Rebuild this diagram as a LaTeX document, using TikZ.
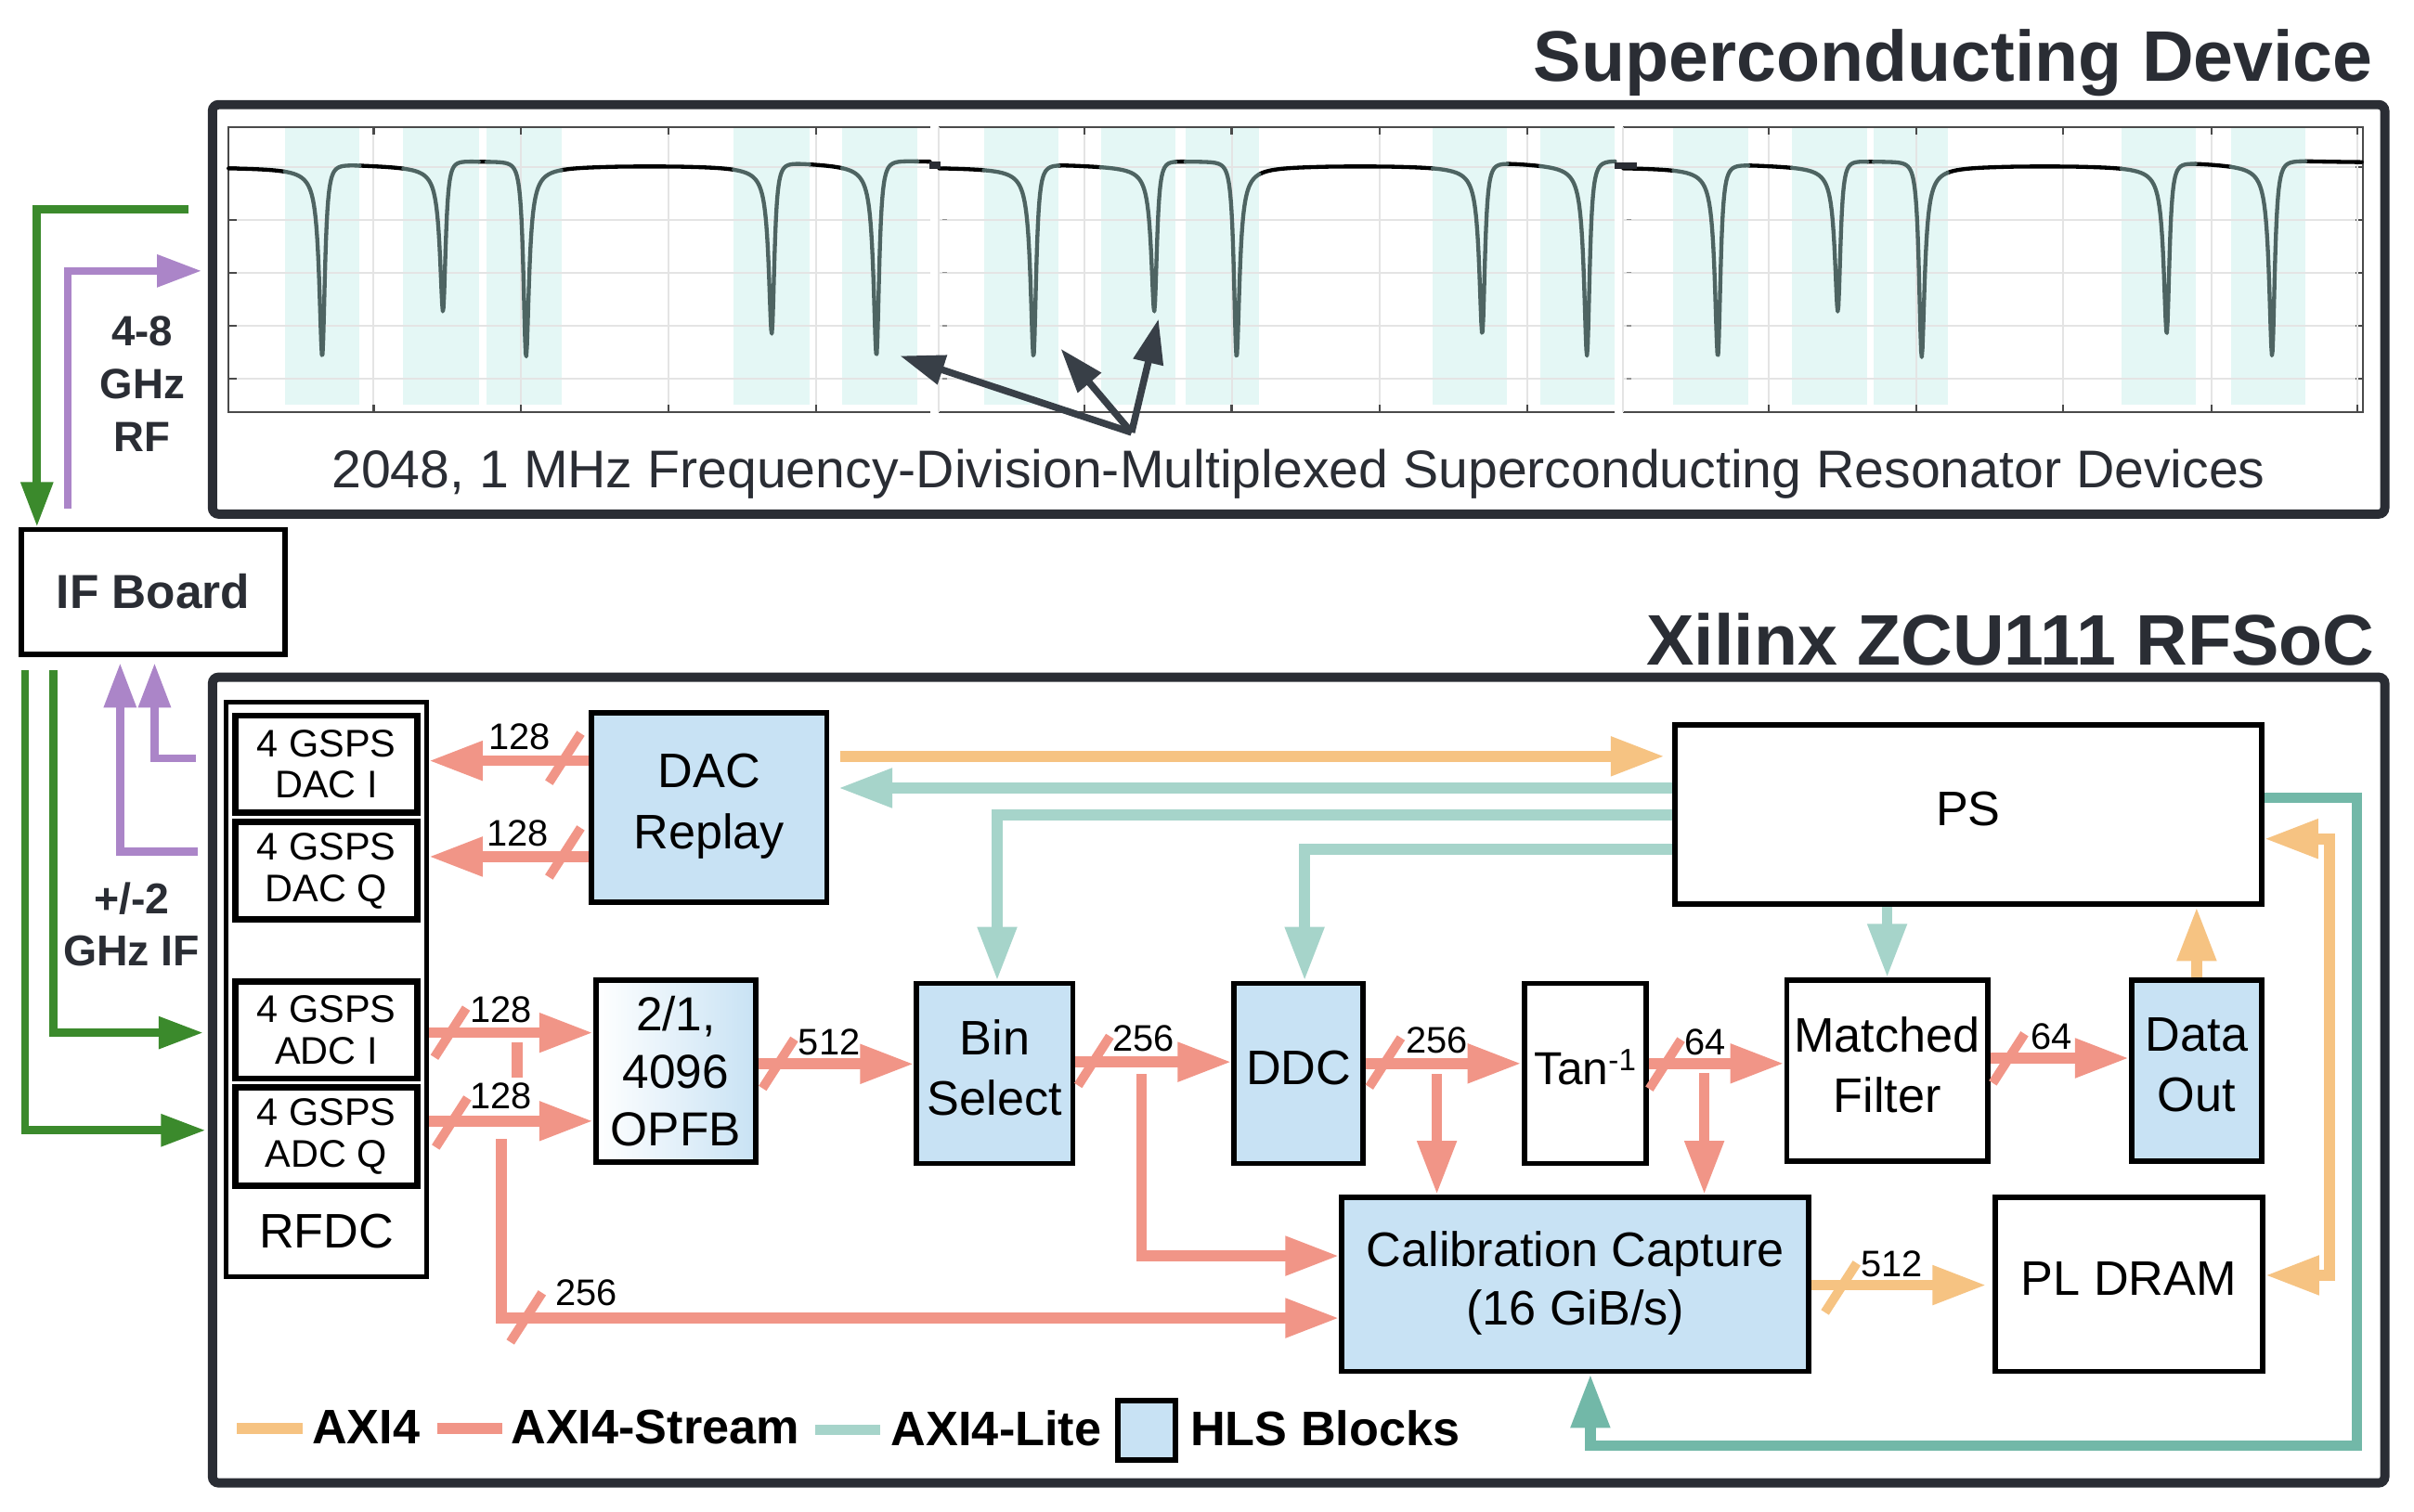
\documentclass[tikz,border=0pt]{standalone}
\usepackage{fontspec}
\setmainfont{Liberation Sans}
\usetikzlibrary{arrows.meta,calc}
\definecolor{cSalm}{HTML}{F19587}
\definecolor{cOrg}{HTML}{F6C382}
\definecolor{cTeal}{HTML}{A6D4CA}
\definecolor{cTealD}{HTML}{72B8A8}
\definecolor{cPurp}{HTML}{AB85C8}
\definecolor{cGrn}{HTML}{3B8A2C}
\definecolor{cBlue}{HTML}{C8E2F4}
\definecolor{cDark}{HTML}{2A2D34}
\definecolor{cArr}{HTML}{383F47}
\definecolor{cBand}{HTML}{E4F7F5}
\definecolor{cCurve}{HTML}{4E6462}
\definecolor{cGrid}{HTML}{E4E4E4}
\definecolor{cAxis}{HTML}{4A4A4A}
\newcommand\fsz[2]{\fontsize{#1}{#2}\selectfont}
\newcommand\dstr{\rule[-8pt]{0pt}{8pt}}
\newcommand\pone{107+fano(\x,209.5,122,25)+fano(\x,288,94,25)+fano(\x,341.5,124,-25)+fano(\x,501.5,108,25)+fano(\x,569.5,124,25)}
\newcommand\ptwo{107+fano(\x,671.5,122,25)+fano(\x,750,94,25)+fano(\x,803,124,-25)+fano(\x,963,108,25)+fano(\x,1031,124,25)}
\newcommand\pthree{107+fano(\x,1116,122,25)+fano(\x,1194,94,25)+fano(\x,1248,124,-25)+fano(\x,1407.6,108,25)+fano(\x,1476,124,25)}
\tikzset{
  bigtip/.tip={Triangle[length=35pt,width=24pt]},
  smalltip/.tip={Triangle[length=29pt,width=20pt]},
  plottip/.tip={Triangle[length=29pt,width=19pt]},
  bus/.style={line width=7pt},
  salm/.style={bus, draw=cSalm},
  org/.style={bus, draw=cOrg},
  tl/.style={bus, draw=cTeal},
  tld/.style={bus, draw=cTealD},
  sig/.style={line width=5.2pt},
  purp/.style={sig, draw=cPurp},
  grn/.style={sig, draw=cGrn},
  bigframe/.style={draw=cDark, line width=6pt, rounded corners=4pt, inner sep=0pt},
  blk/.style={draw=black, line width=3.5pt, inner sep=0pt, align=center, font=\fsz{31.5}{39.5}},
  hls/.style={blk, fill=cBlue},
  subbox/.style={draw=black, line width=4pt, inner sep=0pt, align=center, font=\fsz{25}{27}},
  lbl/.style={font=\fsz{24}{24}, inner sep=0pt},
  legtxt/.style={font=\bfseries\fsz{31.5}{31.5}, inner sep=0pt, anchor=base west},
  curveblk/.style={black, line width=2.6pt, line join=round, line cap=round},
  curvegray/.style={cCurve, line width=2.6pt, line join=round, line cap=round},
  plotarr/.style={draw=cArr, line width=4.5pt, -{plottip}},
  pics/busmark/.style={code={\draw[line width=6pt,draw=#1] (-10.3,16) -- (10.3,-16);}},
}
\begin{document}
\begin{tikzpicture}[x=1pt,y=-1pt,
  declare function={cl(\va,\vb)=max(-45,min(45,(\va-\vb)/2.2));
                    fano(\va,\vb,\vc,\vd)=(\vc-\vd*cl(\va,\vb))/(1+cl(\va,\vb)*cl(\va,\vb));}]
\useasboundingbox (0,0) rectangle (1568,982);
\fill[white] (0,0) rectangle (1568,982);

% ---------- titles ----------
\node[anchor=base east, font=\bfseries\fsz{46.5}{46.5}, text=cDark, inner sep=0pt] (t1) at (1541.5,52.8) {Superconducting Device};
\node[anchor=base east, font=\bfseries\fsz{46.5}{46.5}, text=cDark, inner sep=0pt] (t2) at (1542.6,432.2) {Xilinx ZCU111 RFSoC};

% ---------- superconducting device frame ----------
\node[bigframe, minimum width=1411pt, minimum height=266pt] (sd) at (843.5,201) {};

% bands
\foreach \ba/\bb in {185/233.6, 262/311, 316/364.6, 476.6/525.6, 547/596, 639/687.6, 715/763.6, 770/818, 930.6/979, 1000.6/1049, 1087/1135.6, 1164/1213, 1217/1265, 1378/1426, 1449/1497.5}
  \fill[cBand] (\ba,83.4) rectangle (\bb,263);
% grid
\foreach \gy in {108.6,142.7,177.1,211.5,245.9}{
  \draw[cGrid, line width=1.3pt] (148.5,\gy) -- (604,\gy);
  \draw[cGrid, line width=1.3pt] (610,\gy) -- (1049,\gy);
  \draw[cGrid, line width=1.3pt] (1054.4,\gy) -- (1535,\gy);
  \draw[cAxis, line width=1.3pt] (148.5,\gy) -- (153.5,\gy);
  \draw[cAxis, line width=1.3pt] (1535,\gy) -- (1530,\gy);
  \draw[cAxis!60, line width=1pt] (612,\gy) -- (615,\gy);
  \draw[cAxis!60, line width=1pt] (1056.5,\gy) -- (1059.5,\gy);
}
\foreach \gx in {242.7,338.5,434,530,704.5,800,896,992,1149,1244.6,1340,1436.6,1531}{
  \draw[cGrid, line width=1.2pt] (\gx,82.5) -- (\gx,268);
  \draw[cAxis, line width=1.3pt] (\gx,82.5) -- (\gx,87.5);
  \draw[cAxis, line width=1.3pt] (\gx,268) -- (\gx,263);
}
\draw[cAxis, line width=1.3pt] (604,82.5) -- (148.5,82.5) -- (148.5,268) -- (604,268);
\draw[cAxis, line width=1.3pt] (610,82.5) -- (1049,82.5) (610,268) -- (1049,268);
\draw[cAxis, line width=1.3pt] (1054.4,82.5) -- (1535,82.5) -- (1535,268) -- (1054.4,268);
\draw[cGrid, line width=1.2pt] (610,82.5) -- (610,268) (1054.4,82.5) -- (1054.4,268);

% curve: black outside bands
\foreach \ba/\bb in {148.5/185, 233.6/262, 311/316, 364.6/476.6, 525.6/547, 596/604}
  \draw[curveblk] plot[domain=\ba:\bb, samples=60] (\x,{\pone});
\foreach \ba/\bb in {610/639, 687.6/715, 763.6/770, 818/930.6, 979/1000.6}
  \draw[curveblk] plot[domain=\ba:\bb, samples=60] (\x,{\ptwo});
\foreach \ba/\bb in {1054.4/1087, 1135.6/1164, 1213/1217, 1265/1378, 1426/1449, 1497.5/1534}
  \draw[curveblk] plot[domain=\ba:\bb, samples=60] (\x,{\pthree});
% curve: gray inside bands
\foreach \ba/\bb in {185/233.6, 262/311, 316/364.6, 476.6/525.6, 547/596}
  \draw[curvegray] plot[domain=\ba:\bb, samples=110] (\x,{\pone});
\foreach \ba/\bb in {639/687.6, 715/763.6, 770/818, 930.6/979, 1000.6/1049}
  \draw[curvegray] plot[domain=\ba:\bb, samples=110] (\x,{\ptwo});
\foreach \ba/\bb in {1087/1135.6, 1164/1213, 1217/1265, 1378/1426, 1449/1497.5}
  \draw[curvegray] plot[domain=\ba:\bb, samples=110] (\x,{\pthree});
\fill[cDark] (603.5,105.2) rectangle (611,109.6);
\fill[cDark] (1049,105.5) rectangle (1063,110);

% plot arrows
\coordinate (ao) at (735,281);
\coordinate (at1) at (584.6,231.2);
\coordinate (at2) at (689,226.6);
\coordinate (at3) at (752.5,207.2);
\draw[plotarr] (ao) -- (at1);
\draw[plotarr] (ao) -- (at2);
\draw[plotarr] (ao) -- (at3);

\node[anchor=base, font=\fsz{34.5}{34.5}, text=cDark, inner sep=0pt] (cap) at (843.5,317) {2048, 1 MHz Frequency-Division-Multiplexed Superconducting Resonator Devices};

% ---------- left side ----------
\node[blk, font=\bfseries\fsz{31}{31}, text=cDark, minimum width=171pt, minimum height=81pt] (ifb) at (99.5,384.5) {IF Board};
\node[align=center, font=\bfseries\fsz{27.5}{34.5}, text=cDark, inner sep=0pt] (rflbl) at (92.5,249.4) {4-8\\GHz\\RF};
\node[align=center, font=\bfseries\fsz{28}{34}, text=cDark, inner sep=0pt] (iflbl) at (85.5,600.6) {+/-2\\GHz IF};

% ---------- RFSoC frame ----------
\node[bigframe, minimum width=1411pt, minimum height=523.5pt] (xb) at (843.5,701.75) {};

\node[draw=black, line width=3pt, minimum width=130pt, minimum height=373.6pt, inner sep=0pt] (rfdc) at (212,642.8) {};
\node[font=\fsz{31.5}{31.5}, inner sep=0pt] (rfdclbl) at (212,800) {RFDC};
\node[subbox, minimum width=118pt, minimum height=63pt] (daci) at (212,496.5) {4 GSPS\\DAC I};
\node[subbox, minimum width=118pt, minimum height=63.5pt] (dacq) at (212,565.75) {4 GSPS\\DAC Q};
\node[subbox, minimum width=118pt, minimum height=63.2pt] (adci) at (212,669.2) {4 GSPS\\ADC I};
\node[subbox, minimum width=118pt, minimum height=64pt] (adcq) at (212,738.6) {4 GSPS\\ADC Q};

\node[hls, minimum width=153pt, minimum height=123pt, font=\fsz{31.5}{40}] (dacrep) at (460.5,524.5) {DAC\\Replay\dstr};
\node[blk, left color=white, right color=cBlue, minimum width=104pt, minimum height=118pt, font=\fsz{31}{37.3}] (opfb) at (439,696) {2/1,\\4096\\OPFB};
\node[hls, minimum width=101.4pt, minimum height=117pt] (bin) at (646.1,697.5) {Bin\\Select\dstr};
\node[hls, minimum width=83.8pt, minimum height=117pt] (ddc) at (843.6,697.5) {DDC\dstr};
\node[blk, minimum width=79pt, minimum height=117pt, font=\fsz{30}{30}] (tan) at (1029.5,697.5) {Tan\raisebox{9pt}{\fsz{20}{20}-1}\dstr};
\node[blk, minimum width=130.4pt, minimum height=117.5pt] (mf) at (1225.8,695.75) {Matched\\Filter\dstr};
\node[hls, minimum width=84.4pt, minimum height=117.5pt] (dout) at (1426.8,695.75) {Data\\Out\dstr};
\node[blk, minimum width=381pt, minimum height=116.6pt] (ps) at (1278.5,529.3) {PS\dstr};
\node[hls, minimum width=303.4pt, minimum height=113pt, font=\fsz{31.5}{38}] (cal) at (1023.3,834.5) {Calibration Capture\\(16 GiB/s)\dstr};
\node[blk, minimum width=173.7pt, minimum height=113pt] (pldram) at (1382.85,834.5) {PL DRAM\dstr};

% ---------- RF / IF connections ----------
\coordinate (g1s) at (122.6,136);
\draw[grn,-{smalltip}] (g1s) -| (ifb.north -| 24,0);
\coordinate (p1e) at (131,176);
\draw[purp,-{smalltip}, shorten <=12pt] (ifb.north -| 44,0) |- (p1e);
\draw[grn,-{smalltip}, shorten <=8.6pt, shorten >=3pt] (ifb.south -| 34.6,0) |- (xb.west |- 0,671);
\draw[grn,-{smalltip}, shorten <=8.6pt, shorten >=1.5pt] (ifb.south -| 16.3,0) |- (xb.west |- 0,734.4);
\draw[purp,-{smalltip}, shorten <=6.4pt, shorten >=4pt] (xb.west |- 0,553.5) -| (ifb.south -| 78,0);
\draw[purp,-{smalltip}, shorten <=8pt, shorten >=4pt] (xb.west |- 0,492.8) -| (ifb.south -| 100.4,0);

% ---------- AXI4-Stream ----------
\draw[salm,-{bigtip}] (dacrep.west |- 0,494.3) -- (rfdc.east |- 0,494.3);
\draw[salm,-{bigtip}] (dacrep.west |- 0,556.6) -- (rfdc.east |- 0,556.6);
\draw[salm,-{bigtip}] (rfdc.east |- 0,671) -- (opfb.west |- 0,671);
\draw[salm,-{bigtip}] (rfdc.east |- 0,728.4) -- (opfb.west |- 0,728.4);
\coordinate (stubA) at (336,677.5);
\coordinate (stubB) at (336,700);
\draw[salm] (stubA) -- (stubB);
\coordinate (brA) at (325.7,740.2);
\draw[salm,-{bigtip}] (brA) |- (cal.west |- 0,856.4);
\draw[salm,-{bigtip}] (opfb.east |- 0,691.3) -- (bin.west |- 0,691.3);
\draw[salm,-{bigtip}] (bin.east |- 0,690) -- (ddc.west |- 0,690);
\coordinate (brB) at (741.5,698);
\draw[salm,-{bigtip}] (brB) |- (cal.west |- 0,816);
\draw[salm,-{bigtip}] (ddc.east |- 0,691) -- (tan.west |- 0,691);
\coordinate (brC) at (933.3,698);
\draw[salm,-{bigtip}] (brC) -- (cal.north -| brC);
\draw[salm,-{bigtip}] (tan.east |- 0,691) -- (mf.west |- 0,691);
\coordinate (brD) at (1107,697);
\draw[salm,-{bigtip}] (brD) -- (cal.north -| brD);
\draw[salm,-{bigtip}] (mf.east |- 0,687.5) -- (dout.west |- 0,687.5);

% ---------- AXI4 ----------
\draw[org,-{bigtip}, shorten <=6.8pt, shorten >=5pt] (dacrep.east |- 0,491.4) -- (ps.west |- 0,491.4);
\draw[org,-{bigtip}] (dout.north) -- (dout.north |- ps.south);
\coordinate (oR1) at (1513,545);
\coordinate (oR2) at (1513,828.6);
\draw[org,{bigtip}-{bigtip}] (ps.east |- oR1) -- (oR1) -- (oR2) -- (pldram.east |- oR2);
\draw[org,-{bigtip}, shorten >=4pt] (cal.east |- 0,835) -- (pldram.west |- 0,835);

% ---------- AXI4-Lite ----------
\draw[tl,-{bigtip}, shorten >=5.8pt] (ps.west |- 0,512) -- (dacrep.east |- 0,512);
\draw[tl,-{bigtip}] (ps.west |- 0,529.5) -| ([xshift=1.6pt]bin.north);
\draw[tl,-{bigtip}] (ps.west |- 0,551.8) -| ([xshift=3.8pt]ddc.north);
\draw[tl,-{bigtip}] (mf.north |- ps.south) -- (mf.north);
\coordinate (tR1) at (1531,518.4);
\coordinate (tR2) at (1531,939.2);
\coordinate (tR3) at (1033,939.2);
\draw[tld,-{bigtip}] (ps.east |- tR1) -- (tR1) -- (tR2) -- (tR3) -- (cal.south -| tR3);

% ---------- bus width marks ----------
\pic at (366.9,492.5) {busmark=cSalm};
\pic at (366.9,553.9) {busmark=cSalm};
\pic at (292.5,671) {busmark=cSalm};
\pic at (293.3,729.4) {busmark=cSalm};
\pic at (505.6,691.1) {busmark=cSalm};
\pic at (710.6,689.3) {busmark=cSalm};
\pic at (899.7,690.3) {busmark=cSalm};
\pic at (1081.6,691.5) {busmark=cSalm};
\pic at (1304.7,687.7) {busmark=cSalm};
\pic at (1195.7,836.7) {busmark=cOrg};
\pic at (341.8,856) {busmark=cSalm};

\node[lbl] (l1) at (337.5,478.8) {128};
\node[lbl] (l2) at (336.3,541.3) {128};
\node[lbl] (l3) at (325.5,655.9) {128};
\node[lbl] (l4) at (325.4,712.2) {128};
\node[lbl] (l5) at (538.6,677) {512};
\node[lbl] (l6) at (742.9,675) {256};
\node[lbl] (l7) at (933.3,676) {256};
\node[lbl] (l8) at (1107.7,677) {64};
\node[lbl] (l9) at (1332.6,673.4) {64};
\node[lbl] (l10) at (1229,821) {512};
\node[lbl] (l11) at (380.8,839.7) {256};

% ---------- legend ----------
\coordinate (lgA1) at (154,928); \coordinate (lgA2) at (196.3,928);
\draw[org] (lgA1) -- (lgA2);
\node[legtxt] (lgAt) at (202.5,938) {AXI4};
\coordinate (lgB1) at (283.9,928); \coordinate (lgB2) at (326.1,928);
\draw[salm] (lgB1) -- (lgB2);
\node[legtxt] (lgBt) at (331.7,938) {AXI4-Stream};
\coordinate (lgC1) at (529.7,929); \coordinate (lgC2) at (572,929);
\draw[tl] (lgC1) -- (lgC2);
\node[legtxt] (lgCt) at (578.7,939) {AXI4-Lite};
\node[draw=black, line width=3.5pt, fill=cBlue, minimum width=37.7pt, minimum height=38.5pt, inner sep=0pt] (lgD) at (744.85,929.25) {};
\node[legtxt] (lgDt) at (773,939) {HLS Blocks};
\end{tikzpicture}
\end{document}
